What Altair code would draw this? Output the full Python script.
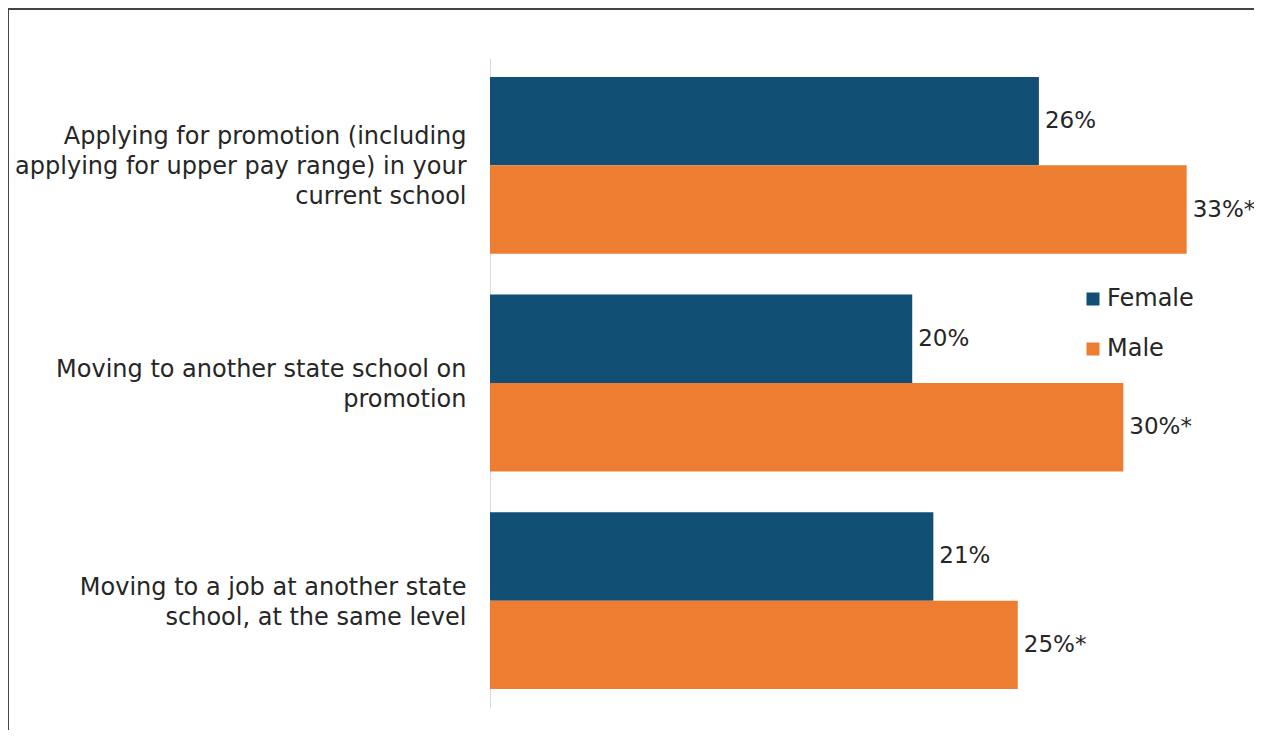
import altair as alt
import pandas as pd

categories = [
    "Applying for promotion (including|applying for upper pay range) in your|current school",
    "Moving to another state school on|promotion",
    "Moving to a job at another state|school, at the same level",
]
genders = ["Female", "Male"]
female_values = [26, 20, 21]
male_values = [33, 30, 25]
female_labels = ["26%", "20%", "21%"]
male_labels = ["33%*", "30%*", "25%*"]

rows = []
for i, c in enumerate(categories):
    rows.append({"category": c, "gender": "Female", "value": female_values[i], "label": female_labels[i]})
    rows.append({"category": c, "gender": "Male", "value": male_values[i], "label": male_labels[i]})
df = pd.DataFrame(rows)

FONT = "DejaVu Sans"
TXT = "#262626"

y_enc = alt.Y(
    "category:N",
    sort=categories,
    scale=alt.Scale(paddingInner=0.188, paddingOuter=0.087),
    axis=alt.Axis(
        title=None,
        labelExpr="split(datum.label, '|')",
        labelOffset=alt.ExprRef(expr="2 - (length(split(datum.label, '|')) - 1) * 15"),
        labelFontSize=24,
        labelFont=FONT,
        labelColor=TXT,
        labelPadding=24,
        labelLineHeight=30,
        labelLimit=0,
        ticks=False,
        domainColor="#d9d9d9",
        domainWidth=1,
    ),
)
yoff_enc = alt.YOffset("gender:N", sort=genders, scale=alt.Scale(paddingInner=0, paddingOuter=0))
x_enc = alt.X("value:Q", scale=alt.Scale(domain=[0, 36], nice=False), axis=None)

base = alt.Chart(df)

bars = base.mark_bar().encode(
    y=y_enc,
    yOffset=yoff_enc,
    x=x_enc,
    color=alt.Color(
        "gender:N",
        scale=alt.Scale(domain=genders, range=["#124F74", "#ED7D31"]),
        legend=alt.Legend(
            orient="none",
            legendX=591,
            legendY=229,
            title=None,
            symbolType="square",
            symbolSize=169,
            symbolStrokeWidth=0,
            labelFontSize=24,
            labelFont=FONT,
            labelColor=TXT,
            labelOffset=2,
            rowPadding=26,
            padding=0,
        ),
    ),
)

text = base.mark_text(align="left", baseline="middle", dx=6, fontSize=23, font=FONT, color=TXT).encode(
    y=alt.Y("category:N", sort=categories),
    yOffset=alt.YOffset("gender:N", sort=genders),
    x=alt.X("value:Q"),
    text="label:N",
)

one = alt.Chart(pd.DataFrame({"a": [0]}))
frame_left = one.mark_rule(color="#444444", strokeWidth=2).encode(
    x=alt.value(-482), y=alt.value(-50), y2=alt.value(700)
)
frame_top = one.mark_rule(color="#444444", strokeWidth=2).encode(
    x=alt.value(-483), x2=alt.value(800), y=alt.value(-49)
)

chart = (
    alt.layer(bars, text, frame_left, frame_top)
    .properties(
        width=760,
        height=650,
        autosize=alt.AutoSizeParams(type="none"),
        padding={"left": 482, "top": 50, "right": 4, "bottom": 22},
    )
    .configure_view(stroke=None)
)

chart.save("out.html", embed_options={"renderer": "svg", "actions": False})
